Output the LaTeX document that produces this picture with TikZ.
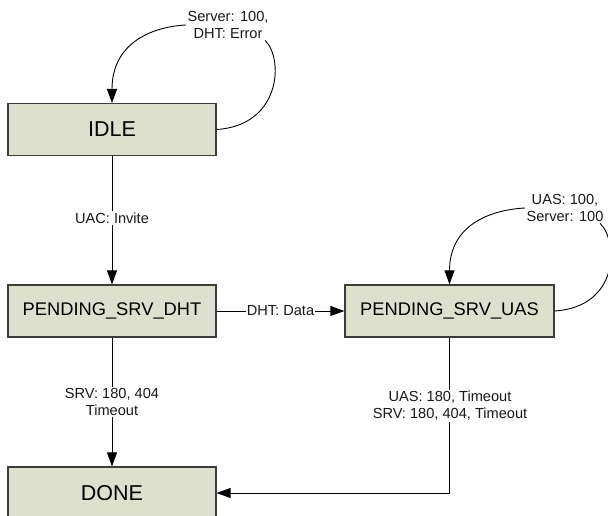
\documentclass[tikz,border=0pt]{standalone}
\usepackage{fontspec}
\setmainfont{Liberation Sans}
\usetikzlibrary{arrows.meta}
\definecolor{statefill}{RGB}{221,224,204}
\definecolor{stateline}{RGB}{60,60,60}
\begin{document}
\begin{tikzpicture}[x=1pt,y=-1pt,
  state/.style={draw=stateline, line width=1.2pt, fill=statefill,
    minimum width=208pt, minimum height=52pt, inner sep=0pt, text=black},
  bigtext/.style={font=\fontsize{21.5}{24}\selectfont},
  midtext/.style={font=\fontsize{18.3}{21}\selectfont},
  lbl/.style={font=\fontsize{14.6}{17}\selectfont, align=center,
    inner sep=1.5pt, fill=white, text=black!90},
  conn/.style={draw=black, line width=0.9pt},
  tip/.style={-{Triangle[length=14pt,width=10pt]}}
]
\useasboundingbox (0,0) rectangle (608,516);
\fill[white] (0,0) rectangle (608,516);

% states
\node[state,bigtext] (idle) at (112,129.5) {IDLE};
\node[state,midtext] (dht) at (112,311) {PENDING\_SRV\_DHT};
\node[state,midtext,minimum width=209pt] (uas) at (449.5,311) {PENDING\_SRV\_UAS};
\node[state,bigtext] (done) at (112,493) {DONE};

% elbow from PENDING_SRV_UAS down to DONE (label sits on top of it)
\draw[conn,tip] (uas.south) -- (uas.south |- done.east) -- (done.east);

% transition labels
\node[lbl, fill=none] (lblidle) at (228,25) {Server: 100,\\DHT: Error};
\node[lbl] (invite) at (112,218) {UAC: Invite};
\node[lbl, inner xsep=0.5pt] (data) at (280.5,311) {DHT: Data};
\node[lbl, fill=none] (lbluas) at (565,208) {UAS: 100,\\Server: 100};
\node[lbl] (srv) at (112,402) {SRV: 180, 404\\Timeout};
\node[lbl] (uasdone) at (450,406) {UAS: 180, Timeout\\SRV: 180, 404, Timeout};

% straight transitions
\draw[conn] (idle.south) -- (invite.north);
\draw[conn,tip] (invite.south) -- (dht.north);
\draw[conn] (dht.east) -- (data.west);
\draw[conn,tip] (data.east) -- (uas.west);
\draw[conn] (dht.south) -- (srv.north);
\draw[conn,tip] (srv.south) -- (done.north);

% self loops
\draw[conn,tip] (lblidle.west) .. controls +(-37,2) and +(0,-58) .. (idle.north);
\draw[conn] ([xshift=-5pt]lblidle.south east) .. controls +(19,19) and +(64,-4) .. (idle.east);
\draw[conn,tip] (lbluas.west) .. controls +(-37,2) and +(0,-58) .. (uas.north);
\draw[conn] ([xshift=-5pt]lbluas.south east) .. controls +(19,19) and +(64,-4) .. (uas.east);
\end{tikzpicture}
\end{document}
